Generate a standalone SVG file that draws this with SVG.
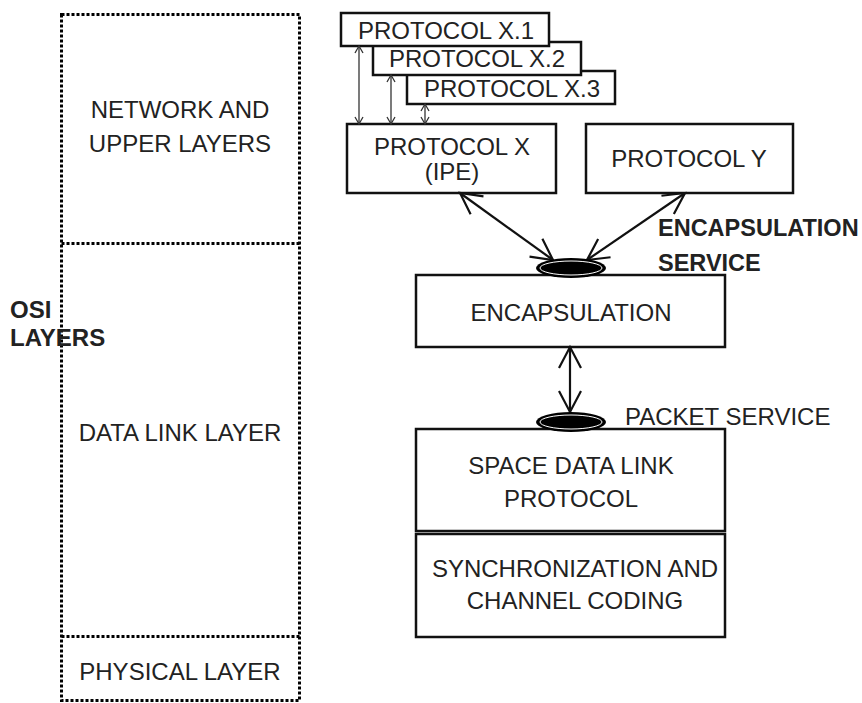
<svg xmlns="http://www.w3.org/2000/svg" width="862" height="703" viewBox="0 0 862 703">
<defs>
<style>
.t{font-family:"Liberation Sans",Arial,sans-serif;font-size:24px;fill:#222;text-anchor:middle}
.b{font-family:"Liberation Sans",Arial,sans-serif;font-size:23.5px;font-weight:bold;fill:#222}
.box{fill:#fff;stroke:#111;stroke-width:2.5}
.dot{fill:none;stroke:#000;stroke-width:3;stroke-dasharray:3 2}
.big{stroke:#111;stroke-width:2.2;fill:none;marker-start:url(#ah);marker-end:url(#ah)}
.sm{stroke:#333;stroke-width:1.3;fill:none;marker-start:url(#as);marker-end:url(#as)}
</style>
<marker id="ah" markerUnits="userSpaceOnUse" viewBox="-24 -14 28 28" refX="0" refY="0" markerWidth="28" markerHeight="28" orient="auto-start-reverse">
<path d="M -21 -11 L 0 0 L -21 11" fill="none" stroke="#111" stroke-width="2.2"/>
</marker>
<marker id="as" markerUnits="userSpaceOnUse" viewBox="-10 -6 12 12" refX="0" refY="0" markerWidth="12" markerHeight="12" orient="auto-start-reverse">
<path d="M -7 -4 L 0 0 L -7 4" fill="none" stroke="#333" stroke-width="1.3"/>
</marker>
</defs>
<rect width="862" height="703" fill="#fff"/>

<g id="osi-layers">
<rect class="dot" x="61.5" y="14.5" width="238" height="686"/>
<line class="dot" x1="61.5" y1="243.5" x2="299.5" y2="243.5"/>
<line class="dot" x1="61.5" y1="636.5" x2="299.5" y2="636.5"/>
<text class="t" x="180" y="118">NETWORK AND</text>
<text class="t" x="180" y="152">UPPER LAYERS</text>
<text class="t" x="180" y="441">DATA LINK LAYER</text>
<text class="t" x="180" y="680">PHYSICAL LAYER</text>
</g>
<g id="osi-label">
<text class="b" x="10" y="318" style="font-size:24px">OSI</text>
<text class="b" x="10" y="346" style="font-size:24px">LAYERS</text>
</g>

<g id="protocol-x3"><rect class="box" x="407" y="71" width="208" height="33"/><text class="t" x="512" y="97">PROTOCOL X.3</text></g>
<g id="protocol-x2"><rect class="box" x="373" y="42" width="208" height="33"/><text class="t" x="477" y="67">PROTOCOL X.2</text></g>
<g id="protocol-x1"><rect class="box" x="341" y="13" width="208" height="33"/><text class="t" x="446" y="39">PROTOCOL X.1</text></g>

<g id="protocol-x"><rect class="box" x="347" y="124" width="209" height="69"/><text class="t" x="452" y="155">PROTOCOL X</text><text class="t" x="452" y="180">(IPE)</text></g>
<g id="protocol-y"><rect class="box" x="586" y="124" width="207" height="69"/><text class="t" x="689" y="167">PROTOCOL Y</text></g>

<g id="encapsulation"><rect class="box" x="416" y="275" width="309" height="72"/><text class="t" x="571" y="321">ENCAPSULATION</text></g>
<g id="space-data-link"><rect class="box" x="416" y="429" width="309" height="102"/><text class="t" x="571" y="474">SPACE DATA LINK</text><text class="t" x="571" y="507">PROTOCOL</text></g>
<g id="sync-coding"><rect class="box" x="416" y="534" width="309" height="103"/><text class="t" x="575" y="577">SYNCHRONIZATION AND</text><text class="t" x="575" y="609">CHANNEL CODING</text></g>

<g id="connectors">
<line class="sm" x1="359" y1="46" x2="359" y2="124"/>
<line class="sm" x1="391" y1="75" x2="391" y2="124"/>
<line class="sm" x1="425" y1="104" x2="425" y2="124"/>
<line class="big" x1="460" y1="193" x2="553" y2="260"/>
<line class="big" x1="685" y1="193" x2="587" y2="260"/>
<line class="big" x1="570" y1="347" x2="570" y2="412"/>
</g>

<g id="encapsulation-sap">
<ellipse cx="571" cy="268" rx="35" ry="10" fill="#000"/>
<ellipse cx="571" cy="268" rx="31" ry="7" fill="none" stroke="#fff" stroke-width="1"/>
<text class="b" x="658" y="236">ENCAPSULATION</text>
<text class="b" x="658" y="271">SERVICE</text>
</g>
<g id="packet-sap">
<ellipse cx="571" cy="422" rx="35" ry="10" fill="#000"/>
<ellipse cx="571" cy="422" rx="31" ry="7" fill="none" stroke="#fff" stroke-width="1"/>
<text class="t" x="625" y="425" style="text-anchor:start">PACKET SERVICE</text>
</g>
</svg>
